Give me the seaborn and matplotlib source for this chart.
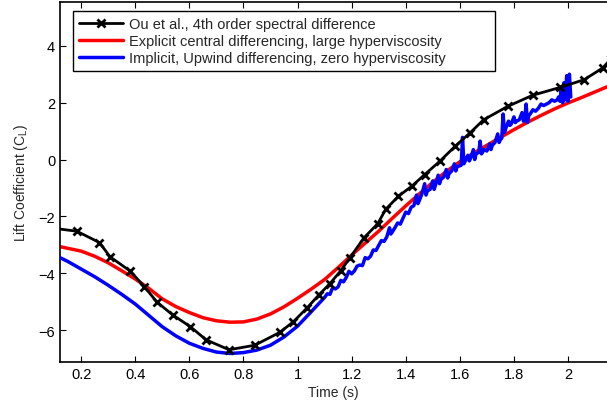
import numpy as np
import pandas as pd
import matplotlib
matplotlib.use("Agg")
import matplotlib.pyplot as plt
import seaborn as sns

# Ou et al., 4th order spectral difference (marked points)
t_ou = [0.10, 0.184, 0.268, 0.307, 0.381, 0.434, 0.480, 0.538, 0.604, 0.662,
        0.747, 0.842, 0.934, 0.984, 1.035, 1.080, 1.120, 1.159, 1.194, 1.246,
        1.297, 1.326, 1.373, 1.422, 1.470, 1.526, 1.583, 1.638, 1.688, 1.777,
        1.869, 1.972, 2.060, 2.128, 2.16]
cl_ou = [-2.42, -2.52, -2.92, -3.42, -3.92, -4.47, -5.01, -5.46, -5.88, -6.34,
         -6.69, -6.53, -6.08, -5.71, -5.22, -4.75, -4.36, -3.92, -3.45, -2.75,
         -2.25, -1.75, -1.29, -0.94, -0.53, -0.06, 0.47, 0.94, 1.40, 1.87,
         2.26, 2.54, 2.81, 3.22, 3.55]

# Explicit central differencing, large hyperviscosity
t_exp = [0.10, 0.15, 0.20, 0.25, 0.30, 0.35, 0.40, 0.45, 0.50, 0.55, 0.60, 0.65,
         0.70, 0.75, 0.80, 0.85, 0.90, 0.95, 1.00, 1.05, 1.10, 1.15, 1.20, 1.25,
         1.30, 1.35, 1.40, 1.45, 1.50, 1.55, 1.60, 1.65, 1.70, 1.75, 1.80, 1.85,
         1.90, 1.95, 2.00, 2.05, 2.10, 2.16]
cl_exp = [-3.02, -3.12, -3.22, -3.40, -3.63, -3.91, -4.20, -4.53, -4.90, -5.17,
          -5.38, -5.56, -5.67, -5.72, -5.71, -5.61, -5.43, -5.18, -4.88, -4.56,
          -4.22, -3.80, -3.36, -2.94, -2.52, -2.07, -1.63, -1.21, -0.80, -0.42,
          -0.08, 0.22, 0.50, 0.78, 1.05, 1.31, 1.55, 1.78, 1.99, 2.18, 2.38, 2.62]

# Implicit, upwind differencing, zero hyperviscosity
t_imp = [0.10, 0.15, 0.20, 0.25, 0.30, 0.35, 0.40, 0.45, 0.50, 0.55, 0.60, 0.65,
         0.70, 0.75, 0.80, 0.85, 0.90, 0.95, 1.00, 1.05,
         1.10, 1.11, 1.12, 1.13, 1.14, 1.15, 1.16, 1.17, 1.18, 1.19,
         1.20, 1.21, 1.22, 1.23, 1.24, 1.25, 1.26, 1.27, 1.28, 1.29,
         1.30, 1.31, 1.32, 1.33, 1.34, 1.345, 1.35, 1.36, 1.37, 1.38, 1.39,
         1.40, 1.41, 1.42, 1.43, 1.44, 1.445, 1.45, 1.46, 1.47, 1.475, 1.48, 1.49,
         1.50, 1.505, 1.51, 1.52, 1.525, 1.53, 1.54, 1.55, 1.555, 1.56, 1.57,
         1.58, 1.585, 1.59, 1.60, 1.605, 1.61, 1.615, 1.62, 1.63, 1.635, 1.64,
         1.65, 1.655, 1.66, 1.67, 1.675, 1.68, 1.69, 1.70, 1.71, 1.715, 1.72,
         1.73, 1.74, 1.745, 1.75, 1.755, 1.76, 1.765, 1.77, 1.78, 1.785, 1.79,
         1.80, 1.805, 1.81, 1.82, 1.83, 1.835, 1.84, 1.845, 1.85, 1.855, 1.86,
         1.87, 1.88, 1.89, 1.90, 1.91, 1.92, 1.93, 1.94, 1.95, 1.96, 1.965,
         1.97, 1.975, 1.98, 1.985, 1.99, 1.995, 2.00, 2.005, 2.01]
cl_imp = [-3.35, -3.58, -3.85, -4.12, -4.42, -4.74, -5.08, -5.48, -5.88, -6.20,
          -6.46, -6.64, -6.77, -6.82, -6.79, -6.70, -6.53, -6.24, -5.86, -5.36,
          -4.85, -4.72, -4.74, -4.50, -4.55, -4.48, -4.25, -4.30, -4.15, -3.93,
          -4.02, -3.92, -3.75, -3.71, -3.73, -3.45, -3.49, -3.40, -3.18, -3.20,
          -3.02, -2.85, -2.88, -2.72, -2.40, -2.62, -2.55, -2.40, -2.23, -2.27, -2.06,
          -1.85, -1.90, -1.68, -1.62, -1.25, -1.55, -1.45, -1.20, -0.85, -1.25, -1.10, -1.05,
          -0.75, -1.05, -0.90, -0.55, -0.85, -0.70, -0.62, -0.35, -0.65, -0.50, -0.40,
          -0.15, -0.40, -0.25, -0.22, -0.20, 0.78, -0.15, -0.05, 0.15, -0.05, 0.05,
          0.35, 0.00, 0.20, 0.25, 0.65, 0.20, 0.35, 0.30, 0.55, 0.35, 0.50,
          0.60, 0.90, 0.60, 0.70, 0.75, 1.60, 0.95, 1.10, 1.35, 1.20, 1.25,
          1.50, 1.30, 1.35, 1.40, 1.65, 1.35, 1.40, 1.95, 1.30, 1.55, 1.60,
          1.75, 1.70, 1.80, 1.95, 1.90, 1.95, 2.00, 2.10, 2.05, 2.10, 2.20,
          2.05, 2.45, 2.00, 2.70, 2.10, 2.95, 2.05, 3.00, 2.20]

labels = ["Ou et al., 4th order spectral difference",
          "Explicit central differencing, large hyperviscosity",
          "Implicit, Upwind differencing, zero hyperviscosity"]

sns.set_style("ticks")
plt.rcParams['font.family'] = ['Liberation Sans', 'DejaVu Sans']

fig = plt.figure(figsize=(6.07, 4.06), dpi=100)
ax = fig.add_axes([60 / 607, 43 / 406, 547 / 607, 360 / 406])

df_ou = pd.DataFrame({"t": t_ou, "cl": cl_ou})
df_exp = pd.DataFrame({"t": t_exp, "cl": cl_exp})
df_imp = pd.DataFrame({"t": t_imp, "cl": cl_imp})

sns.lineplot(data=df_ou, x="t", y="cl", ax=ax, color="black", lw=2,
             marker="x", markersize=5.5, markeredgewidth=2,
             markeredgecolor="black", label=labels[0],
             estimator=None, sort=False, zorder=4)
sns.lineplot(data=df_exp, x="t", y="cl", ax=ax, color="#ff0000", lw=2.5,
             label=labels[1], estimator=None, sort=False, zorder=2)
sns.lineplot(data=df_imp, x="t", y="cl", ax=ax, color="#0000ff", lw=2.5,
             label=labels[2], estimator=None, sort=False, zorder=3)

ax.set_xlim(0.122, 2.144)
ax.set_ylim(-7.12, 5.54)
ax.set_xticks([0.2, 0.4, 0.6, 0.8, 1, 1.2, 1.4, 1.6, 1.8, 2])
ax.set_xticklabels(["0.2", "0.4", "0.6", "0.8", "1", "1.2", "1.4", "1.6", "1.8", "2"])
ax.set_yticks([-6, -4, -2, 0, 2, 4])
ax.set_yticklabels(["\u22126", "\u22124", "\u22122", "0", "2", "4"])
ax.tick_params(direction="in", top=True, right=False, length=4, width=0.8,
               labelsize=10.5, colors="black")
ax.spines["right"].set_visible(False)
for s in ["left", "top", "bottom"]:
    ax.spines[s].set_linewidth(1.2)
    ax.spines[s].set_color("black")

ax.set_xlabel("Time (s)", fontsize=10, labelpad=3)
ax.set_ylabel("Lift Coefficient (C$_\\mathregular{L}$)", fontsize=10, labelpad=6)

# legend box spans roughly x 73..495 px, y 12..71 px in the reference
leg = ax.legend(loc="upper left", bbox_to_anchor=(0.0238, 0.811, 0.771, 0.164),
                mode="expand", fontsize=10.5, frameon=True, fancybox=False,
                framealpha=1, edgecolor="black", handlelength=3.0, numpoints=1,
                borderpad=0.4, labelspacing=0.2, handletextpad=0.45,
                borderaxespad=0)
leg.get_frame().set_linewidth(1.0)

fig.savefig("out.png", dpi=100)
